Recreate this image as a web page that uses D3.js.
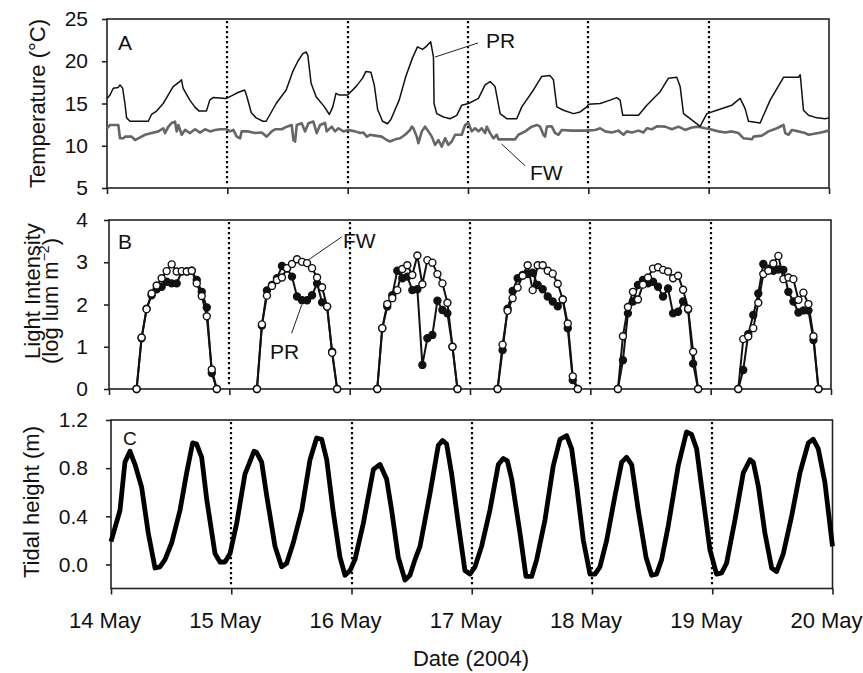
<!DOCTYPE html>
<html>
<head>
<meta charset="utf-8">
<script src="https://d3js.org/d3.v7.min.js"></script>
<style>
body { margin: 0; background: #fff; }
svg text { font-family: "Liberation Sans", Arial, Helvetica, sans-serif; fill: #111; }
</style>
</head>
<body>
<script>
var width = 863;
var height = 673;

// x values are days after 14 May 00:00
var dayLabels = ["14 May", "15 May", "16 May", "17 May", "18 May", "19 May", "20 May"];
var dayTicks = [0, 1, 2, 3, 4, 5, 6];
var midnights = [1, 2, 3, 4, 5];

var tempTicks = [5, 10, 15, 20, 25];
var lightTicks = [0, 1, 2, 3, 4];
var tideTicks = [0.0, 0.4, 0.8, 1.2];

// Panel A: temperature (day, degC)
var tempPR = [[0.000,15.6],[0.025,16.0],[0.052,16.8],[0.094,16.9],[0.108,17.2],[0.130,16.8],[0.149,15.0],[0.163,13.3],[0.191,12.9],[0.343,12.9],[0.370,13.7],[0.412,14.1],[0.467,15.0],[0.508,16.0],[0.550,17.0],[0.577,17.3],[0.605,17.6],[0.619,17.8],[0.633,16.8],[0.688,15.4],[0.729,14.6],[0.765,14.1],[0.826,14.1],[0.854,15.4],[0.881,15.7],[0.992,15.6],[1.047,16.0],[1.088,16.3],[1.144,16.6],[1.163,15.8],[1.199,13.9],[1.240,13.3],[1.296,12.9],[1.323,12.9],[1.406,15.0],[1.489,16.6],[1.544,18.8],[1.586,20.0],[1.627,20.9],[1.655,21.1],[1.669,20.7],[1.696,17.4],[1.738,15.8],[1.807,14.6],[1.848,13.7],[1.876,14.6],[1.903,16.2],[1.931,16.0],[2.000,16.0],[2.069,17.0],[2.124,18.0],[2.152,18.8],[2.193,18.7],[2.221,17.2],[2.249,14.3],[2.290,12.9],[2.331,12.6],[2.359,13.1],[2.428,15.4],[2.483,18.2],[2.539,20.4],[2.580,21.7],[2.622,21.4],[2.649,21.7],[2.690,22.3],[2.713,20.5],[2.718,15.0],[2.740,13.8],[2.796,13.4],[2.851,13.2],[2.907,13.6],[2.948,14.8],[3.004,15.0],[3.087,15.6],[3.142,17.2],[3.184,17.6],[3.225,17.0],[3.267,13.8],[3.322,13.2],[3.405,13.2],[3.447,14.6],[3.544,16.6],[3.613,18.2],[3.682,18.3],[3.710,17.8],[3.738,14.6],[3.793,14.2],[3.876,13.8],[3.932,14.0],[3.987,14.6],[4.001,14.9],[4.098,15.0],[4.181,15.4],[4.236,15.7],[4.264,15.4],[4.286,13.6],[4.417,13.6],[4.486,14.8],[4.597,16.4],[4.666,18.0],[4.735,18.1],[4.763,17.0],[4.791,13.8],[4.846,13.2],[4.929,12.3],[4.985,13.8],[5.068,14.2],[5.193,14.8],[5.262,15.6],[5.303,14.4],[5.331,12.9],[5.428,12.7],[5.511,15.4],[5.622,18.1],[5.747,18.1],[5.761,18.4],[5.788,14.2],[5.830,13.6],[5.899,13.3],[5.968,13.2],[6.000,13.3]];

var tempFW = [[0.000,12.07],[0.025,12.46],[0.094,12.46],[0.108,10.88],[0.136,10.88],[0.150,11.08],[0.205,11.08],[0.233,10.68],[0.260,10.88],[0.316,11.3],[0.371,11.5],[0.427,11.7],[0.468,12.07],[0.482,11.5],[0.510,12.26],[0.538,12.7],[0.565,12.86],[0.579,11.7],[0.593,12.46],[0.621,11.3],[0.648,11.87],[0.690,11.5],[0.732,11.95],[0.773,11.56],[0.815,11.95],[0.856,11.7],[0.898,11.87],[0.939,11.95],[0.995,11.95],[1.022,11.7],[1.050,11.87],[1.078,11.08],[1.106,10.88],[1.119,11.7],[1.175,11.7],[1.230,11.5],[1.286,11.56],[1.327,11.08],[1.369,11.7],[1.397,11.95],[1.452,11.95],[1.494,12.26],[1.535,12.46],[1.549,10.68],[1.563,10.5],[1.577,12.46],[1.618,12.66],[1.646,11.7],[1.674,12.66],[1.715,12.86],[1.743,11.5],[1.771,12.46],[1.812,12.7],[1.826,11.7],[1.868,12.26],[1.895,11.7],[1.923,12.07],[1.965,11.7],[2.006,11.87],[2.062,11.7],[2.103,11.5],[2.131,11.56],[2.159,11.08],[2.186,11.3],[2.228,11.2],[2.283,11.08],[2.325,10.68],[2.352,10.5],[2.394,10.76],[2.436,10.88],[2.477,11.3],[2.519,11.87],[2.533,12.26],[2.546,12.07],[2.574,11.08],[2.588,10.3],[2.616,11.7],[2.643,12.26],[2.671,11.7],[2.699,11.08],[2.727,10.1],[2.754,10.68],[2.782,9.9],[2.810,10.88],[2.837,10.1],[2.865,10.5],[2.893,11.3],[2.948,11.3],[2.976,12.46],[3.004,12.66],[3.031,11.7],[3.059,12.07],[3.087,11.7],[3.114,12.07],[3.142,11.5],[3.156,12.26],[3.184,11.5],[3.211,10.88],[3.239,11.3],[3.253,10.76],[3.281,10.76],[3.392,10.76],[3.419,11.3],[3.475,11.7],[3.530,12.26],[3.572,12.46],[3.599,12.26],[3.627,11.3],[3.641,11.08],[3.655,12.26],[3.696,12.3],[3.724,11.5],[3.752,11.3],[3.779,11.87],[3.863,11.79],[3.918,11.79],[3.973,11.79],[4.057,11.87],[4.098,12.07],[4.140,11.7],[4.195,11.56],[4.250,11.79],[4.292,11.3],[4.320,11.7],[4.361,11.56],[4.417,11.79],[4.458,11.56],[4.486,12.07],[4.528,11.95],[4.569,12.3],[4.638,12.26],[4.694,11.95],[4.749,12.26],[4.805,11.87],[4.860,12.15],[4.915,12.26],[4.971,12.07],[5.012,11.95],[5.082,11.7],[5.137,11.56],[5.193,11.7],[5.248,11.5],[5.290,10.88],[5.359,10.76],[5.373,11.08],[5.442,11.2],[5.497,11.7],[5.567,12.07],[5.622,12.46],[5.636,11.5],[5.664,11.3],[5.691,11.87],[5.747,11.7],[5.802,11.5],[5.830,11.3],[5.913,11.5],[5.968,11.7],[6.000,11.79]];

// Panel B: hourly light (log lum m-2), one row per day
var lightHours = [5.5, 6.5, 7.5, 8.5, 9.5, 10.5, 11.5, 12.5, 13.5, 14.5, 15.5, 16.5, 17.5, 18.5, 19.5, 20.5, 21.5];
var lightFW = [
  [0, 1.22, 1.89, 2.26, 2.45, 2.62, 2.79, 2.95, 2.78, 2.79, 2.78, 2.80, 2.50, 2.20, 1.72, 0.46, 0],
  [0, 1.53, 2.21, 2.44, 2.58, 2.64, 2.86, 2.96, 3.07, 3.01, 2.98, 2.86, 2.64, 2.41, 1.95, 0.86, 0],
  [0, 1.44, 2.01, 2.15, 2.34, 2.84, 2.93, 2.70, 3.16, 2.48, 3.05, 2.99, 2.72, 2.50, 2.04, 1.00, 0],
  [0, 1.05, 1.85, 2.15, 2.40, 2.68, 2.93, 2.34, 2.93, 2.93, 2.80, 2.73, 2.49, 2.12, 1.55, 0.30, 0],
  [0, 1.25, 1.94, 2.30, 2.12, 2.47, 2.64, 2.85, 2.88, 2.82, 2.78, 2.62, 2.68, 2.35, 1.90, 0.88, 0],
  [0, 1.18, 1.24, 1.44, 2.04, 2.72, 2.80, 2.97, 3.15, 2.60, 2.64, 2.60, 2.11, 2.28, 2.01, 1.25, 0]
];
var lightPR = [
  [0, 1.20, 1.90, 2.22, 2.36, 2.42, 2.54, 2.50, 2.50, 2.78, 2.78, 2.80, 2.58, 2.30, 1.93, 0.38, 0],
  [0, 1.50, 2.33, 2.46, 2.62, 2.91, 2.85, 2.66, 2.19, 2.10, 2.10, 2.22, 2.50, 2.05, 1.95, 0.88, 0],
  [0, 1.44, 1.95, 2.22, 2.80, 2.62, 2.66, 2.34, 2.36, 0.57, 1.20, 1.28, 2.09, 1.87, 1.79, 1.00, 0],
  [0, 0.92, 1.90, 2.32, 2.62, 2.70, 2.72, 2.75, 2.46, 2.36, 2.19, 2.07, 1.96, 2.12, 1.44, 0.21, 0],
  [0, 0.68, 1.79, 2.07, 2.46, 2.58, 2.50, 2.54, 2.42, 2.19, 2.38, 1.79, 1.83, 2.07, 1.88, 0.60, 0],
  [0, 0.45, 1.30, 1.75, 2.26, 2.96, 2.85, 2.80, 2.83, 2.82, 2.30, 2.07, 1.81, 1.86, 1.86, 1.16, 0]
];

// Panel C: tidal height (day, m)
var tide = [[0,0.19],[0.075,0.45],[0.116,0.85],[0.158,0.94],[0.200,0.83],[0.255,0.64],[0.310,0.26],[0.366,-0.03],[0.407,-0.02],[0.449,0.04],[0.505,0.18],[0.574,0.45],[0.629,0.76],[0.679,1.01],[0.712,1.00],[0.754,0.89],[0.796,0.54],[0.865,0.09],[0.906,0.02],[0.948,0.02],[0.990,0.09],[1.045,0.34],[1.114,0.75],[1.189,0.94],[1.211,0.93],[1.253,0.85],[1.295,0.57],[1.364,0.15],[1.419,-0.02],[1.461,0.01],[1.516,0.18],[1.586,0.45],[1.655,0.87],[1.710,1.05],[1.752,1.04],[1.794,0.87],[1.849,0.43],[1.904,0.06],[1.946,-0.09],[1.988,-0.05],[2.029,0.04],[2.098,0.34],[2.182,0.79],[2.237,0.83],[2.292,0.71],[2.334,0.45],[2.389,0.06],[2.445,-0.13],[2.486,-0.09],[2.528,0.04],[2.570,0.15],[2.653,0.59],[2.722,0.99],[2.758,1.03],[2.791,1.00],[2.833,0.75],[2.888,0.34],[2.943,-0.05],[2.985,-0.08],[3.027,-0.02],[3.082,0.15],[3.151,0.45],[3.221,0.83],[3.262,0.88],[3.296,0.86],[3.332,0.71],[3.401,0.26],[3.451,-0.10],[3.498,-0.10],[3.540,0.04],[3.609,0.37],[3.678,0.82],[3.734,1.04],[3.789,1.07],[3.831,0.96],[3.873,0.65],[3.928,0.20],[3.983,-0.08],[4.025,-0.08],[4.066,-0.02],[4.122,0.20],[4.191,0.57],[4.247,0.85],[4.288,0.89],[4.330,0.83],[4.385,0.45],[4.449,0.06],[4.496,-0.09],[4.537,-0.08],[4.579,0.04],[4.634,0.32],[4.717,0.82],[4.786,1.10],[4.828,1.08],[4.870,0.96],[4.925,0.54],[4.981,0.12],[5.036,-0.08],[5.078,-0.07],[5.119,0.01],[5.189,0.37],[5.258,0.76],[5.314,0.87],[5.341,0.85],[5.383,0.65],[5.438,0.26],[5.494,-0.03],[5.535,-0.06],[5.591,0.09],[5.660,0.40],[5.729,0.76],[5.799,1.01],[5.840,1.04],[5.882,0.96],[5.937,0.68],[6.000,0.15]];

var svg = d3.select("body").append("svg")
    .attr("width", width)
    .attr("height", height);

// the three panels were pasted together slightly off each other
var xA = d3.scaleLinear().domain([0, 6]).range([107, 829]);
var xB = d3.scaleLinear().domain([0, 6]).range([109, 831]);
var xC = d3.scaleLinear().domain([0, 6]).range([111, 832.5]);
var yA = d3.scaleLinear().domain([5, 25]).range([188, 19]);
var yB = d3.scaleLinear().domain([0, 4]).range([389, 220]);
var yC = d3.scaleLinear().domain([-0.2, 1.2]).range([588.5, 420]);

function frame(x, y, ticks, fmt, top) {
  var g = svg.append("g");
  var x0 = x.range()[0], x1 = x.range()[1];
  var y0 = y.range()[0], y1 = y.range()[1];

  // dotted midnight lines
  g.selectAll("line.mid")
    .data(midnights)
    .enter().append("line")
      .attr("class", "mid")
      .attr("x1", function(d) { return Math.round(x(d)); })
      .attr("x2", function(d) { return Math.round(x(d)); })
      .attr("y1", y1 + 2)
      .attr("y2", y0 - 2)
      .attr("stroke", "#000")
      .attr("stroke-width", 2.2)
      .attr("stroke-dasharray", "2.2,2.8");

  g.append("rect")
    .attr("x", x0).attr("y", top)
    .attr("width", x1 - x0).attr("height", y0 - top)
    .attr("fill", "none")
    .attr("stroke", "#222")
    .attr("stroke-width", 1.6);

  var ya = g.append("g")
    .attr("transform", "translate(" + x0 + ",0)")
    .call(d3.axisLeft(y).tickValues(ticks).tickFormat(fmt).tickSize(5).tickPadding(x0 - 93));
  ya.select(".domain").remove();
  ya.selectAll("line").attr("stroke", "#222").attr("stroke-width", 1.6);
  ya.selectAll("text").attr("font-size", 21).attr("font-family", null).attr("fill", "#111");

  var xa = g.append("g")
    .attr("transform", "translate(0," + y0 + ")")
    .call(d3.axisBottom(x).tickValues(dayTicks).tickSize(6).tickPadding(17.5)
      .tickFormat(function(d, i) { return dayLabels[i]; }));
  xa.select(".domain").remove();
  xa.selectAll("line").attr("stroke", "#222").attr("stroke-width", 1.6);
  xa.selectAll("text").attr("font-size", 22).attr("font-family", null).attr("fill", "#111").attr("x", -6.5);
  return xa;
}

var axA = frame(xA, yA, tempTicks, d3.format("d"), 19);
var axB = frame(xB, yB, lightTicks, d3.format("d"), 220);
var axC = frame(xC, yC, tideTicks, d3.format(".1f"), 420);
axA.selectAll("text").remove();
axB.selectAll("text").remove();

// ---- Panel A
var lineA = d3.line().x(function(d) { return xA(d[0]); }).y(function(d) { return yA(d[1]); });
svg.append("path").datum(tempFW)
  .attr("d", lineA).attr("fill", "none")
  .attr("stroke", "#666").attr("stroke-width", 2.6).attr("stroke-linejoin", "round");
svg.append("path").datum(tempPR)
  .attr("d", lineA).attr("fill", "none")
  .attr("stroke", "#111").attr("stroke-width", 1.5).attr("stroke-linejoin", "round");

// ---- Panel B
function dayPoints(rows) {
  return rows.map(function(vals, d) {
    return vals.map(function(v, i) { return [d + lightHours[i] / 24, v]; });
  });
}
var ptsFW = dayPoints(lightFW);
var ptsPR = dayPoints(lightPR);
var lineB = d3.line().x(function(d) { return xB(d[0]); }).y(function(d) { return yB(d[1]); });

svg.append("g").selectAll("path")
  .data(ptsPR.concat(ptsFW))
  .enter().append("path")
    .attr("d", lineB).attr("fill", "none")
    .attr("stroke", "#111").attr("stroke-width", 2);

svg.append("g").selectAll("circle")
  .data(d3.merge(ptsPR))
  .enter().append("circle")
    .attr("cx", function(d) { return xB(d[0]); })
    .attr("cy", function(d) { return yB(d[1]); })
    .attr("r", 3.5)
    .attr("fill", "#111").attr("stroke", "#111").attr("stroke-width", 1.4);

svg.append("g").selectAll("circle")
  .data(d3.merge(ptsFW))
  .enter().append("circle")
    .attr("cx", function(d) { return xB(d[0]); })
    .attr("cy", function(d) { return yB(d[1]); })
    .attr("r", 3.5)
    .attr("fill", "#fff").attr("stroke", "#111").attr("stroke-width", 1.4);

// ---- Panel C
var lineC = d3.line().x(function(d) { return xC(d[0]); }).y(function(d) { return yC(d[1]); });
svg.append("path").datum(tide)
  .attr("d", lineC).attr("fill", "none")
  .attr("stroke", "#000").attr("stroke-width", 4.8)
  .attr("stroke-linejoin", "round").attr("stroke-linecap", "butt");

// ---- labels and leaders
function label(x, y, t, v, txt, size) {
  svg.append("text").attr("x", x(t)).attr("y", y(v))
    .attr("font-size", size).text(txt);
}
function leader(x, y, t1, v1, t2, v2) {
  svg.append("line")
    .attr("x1", x(t1)).attr("y1", y(v1))
    .attr("x2", x(t2)).attr("y2", y(v2))
    .attr("stroke", "#222").attr("stroke-width", 1);
}

label(xA, yA, 0.091, 21.33, "A", 21);
label(xB, yB, 0.075, 3.31, "B", 21);
label(xC, yC, 0.10, 0.99, "C", 19);

label(xA, yA, 3.15, 21.57, "PR", 21);
leader(xA, yA, 2.726, 20.5, 3.083, 22.16);
label(xA, yA, 3.515, 5.95, "FW", 21);
leader(xA, yA, 3.28, 10.2, 3.474, 7.64);

label(xB, yB, 1.945, 3.34, "FW", 21);
leader(xB, yB, 1.654, 3.05, 1.934, 3.6);
label(xB, yB, 1.338, 0.71, "PR", 21);
leader(xB, yB, 1.518, 1.32, 1.601, 1.99);

// axis titles
svg.append("text")
  .attr("transform", "translate(45,103.5) rotate(-90)")
  .attr("text-anchor", "middle").attr("font-size", 22)
  .text("Temperature (°C)");

svg.append("text")
  .attr("transform", "translate(40,291) rotate(-90)")
  .attr("text-anchor", "middle").attr("font-size", 22)
  .text("Light Intensity");

var l2 = svg.append("text")
  .attr("transform", "translate(58,301) rotate(-90)")
  .attr("text-anchor", "middle").attr("font-size", 22);
l2.append("tspan").text("(log lum m");
l2.append("tspan").attr("dy", -9).attr("font-size", 14).text("\u22122");
l2.append("tspan").attr("dy", 9).text(")");

svg.append("text")
  .attr("transform", "translate(39,502) rotate(-90)")
  .attr("text-anchor", "middle").attr("font-size", 22)
  .text("Tidal height (m)");

svg.append("text")
  .attr("x", 471).attr("y", 666)
  .attr("text-anchor", "middle").attr("font-size", 22)
  .text("Date (2004)");
</script>
</body>
</html>
